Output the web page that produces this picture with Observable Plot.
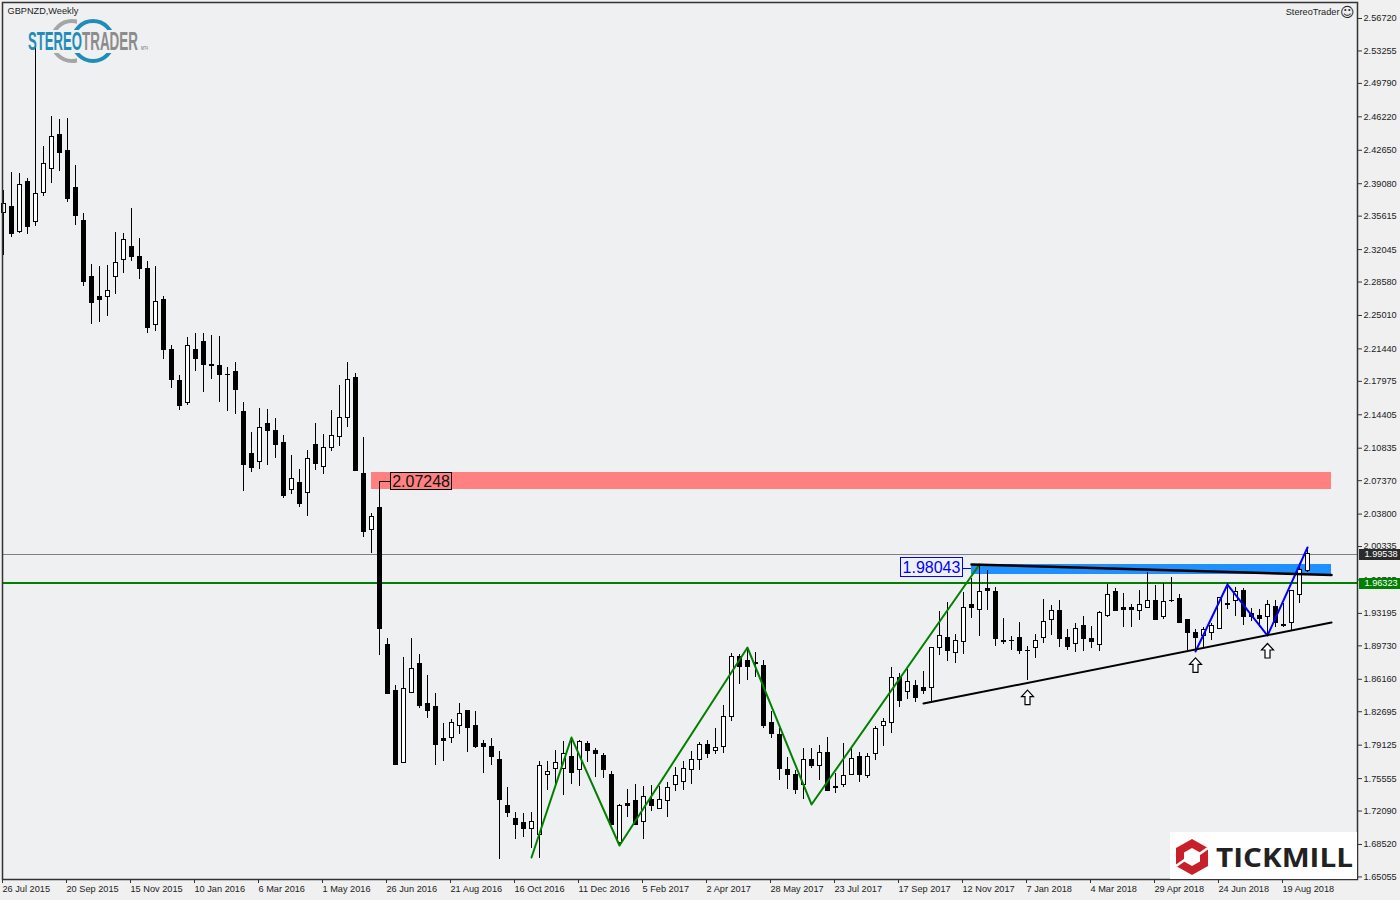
<!DOCTYPE html>
<html><head><meta charset="utf-8">
<script src="https://cdn.jsdelivr.net/npm/d3@7"></script>
<script src="https://cdn.jsdelivr.net/npm/@observablehq/plot@0.6"></script>
<style>
html,body{margin:0;padding:0;background:#f0f0f0;}
#wrap{position:relative;width:1400px;height:900px;overflow:hidden;}
#wrap>svg{display:block;}
#logo{position:absolute;left:0;top:0;pointer-events:none;}
</style></head><body><div id="wrap"></div>
<script>
const highs=[2.3835,2.4027,2.4017,2.3963,2.5394,2.4305,2.4625,2.4593,2.4604,2.4102,
2.3590,2.3045,2.3024,2.3034,2.3387,2.3376,2.3643,2.3323,2.3077,2.3024,
2.2703,2.2180,2.1860,2.2266,2.2308,2.2308,2.2287,2.2276,2.1945,2.1999,
2.1571,2.1251,2.1507,2.1497,2.1401,2.1219,2.1006,2.0856,2.1059,2.1347,
2.1230,2.1486,2.1753,2.1999,2.1881,2.1198,2.0386,2.07248,1.9051,1.8550,
1.8849,1.9051,1.8881,1.8656,1.8464,1.8144,1.8186,1.8357,1.8272,1.8272,
1.7962,1.7984,1.7845,1.7460,1.7193,1.7183,1.7193,1.7738,1.7738,1.7855,
1.7952,1.7962,1.7962,1.7952,1.7877,1.7823,1.7631,1.7279,1.7439,1.7492,
1.7471,1.7482,1.7471,1.7514,1.7674,1.7738,1.7845,1.7941,1.7962,1.8090,
1.8336,1.8891,1.8881,1.8955,1.8902,1.8817,1.8272,1.8090,1.7781,1.7642,
1.7877,1.7877,1.7909,1.7994,1.7610,1.7930,1.7888,1.7834,1.7823,1.8112,
1.8197,1.8742,1.8678,1.8720,1.8603,1.8699,1.8955,1.9340,1.9436,1.9094,
1.9543,1.9692,1.9842,1.9778,1.9596,1.9265,1.9073,1.9222,1.8966,1.9094,
1.9468,1.9404,1.9457,1.9148,1.9212,1.9286,1.9180,1.9340,1.9628,1.9585,
1.9532,1.9414,1.9564,1.9756,1.9617,1.9639,1.9703,1.9521,1.9254,1.9148,
1.9169,1.9212,1.9489,1.9639,1.9596,1.9585,1.9372,1.9361,1.9457,1.9457,
1.9425,1.9564,1.9852,2.0023];
const lows=[2.3141,2.3333,2.3376,2.3365,2.3451,2.3771,2.3910,2.4038,2.3707,2.3461,
2.2810,2.2404,2.2426,2.2490,2.2725,2.2949,2.3077,2.2885,2.2308,2.2330,
2.2031,2.1721,2.1486,2.1539,2.1902,2.1678,2.1817,2.1571,2.1475,2.1443,
2.0621,2.0824,2.0856,2.0899,2.0973,2.0546,2.0589,2.0450,2.0354,2.0845,
2.0803,2.1048,2.1102,2.1305,2.0845,2.0130,1.9959,1.8870,1.8464,1.7706,
1.7717,1.8464,1.8304,1.8197,1.7695,1.7738,1.7930,1.8026,1.7834,1.7877,
1.7610,1.7695,1.6692,1.7140,1.6905,1.6927,1.6809,1.6702,1.7428,1.7482,
1.7375,1.7492,1.7471,1.7727,1.7567,1.7557,1.7065,1.6841,1.7140,1.7065,
1.6905,1.7204,1.7236,1.7140,1.7418,1.7428,1.7492,1.7642,1.7770,1.7813,
1.7823,1.8165,1.8560,1.8603,1.8635,1.8090,1.7984,1.7535,1.7439,1.7386,
1.7332,1.7663,1.7535,1.7418,1.7396,1.7460,1.7589,1.7514,1.7557,1.7749,
1.7898,1.8037,1.8315,1.8400,1.8368,1.8453,1.8357,1.8870,1.8806,1.8784,
1.8881,1.9265,1.9073,1.9350,1.8966,1.8987,1.8923,1.8881,1.8603,1.8838,
1.8998,1.9083,1.8955,1.8923,1.8902,1.8913,1.8945,1.8913,1.9276,1.9350,
1.9169,1.9169,1.9244,1.9372,1.9254,1.9254,1.9436,1.9212,1.8923,1.8934,
1.8955,1.9030,1.9148,1.9361,1.9286,1.9190,1.9233,1.9169,1.9083,1.9169,
1.9169,1.9137,1.9425,1.9756];
const opens=[2.3600,2.3654,2.3397,2.3921,2.3504,2.3814,2.4070,2.4433,2.4262,2.3867,
2.3515,2.2917,2.2693,2.2693,2.2917,2.3088,2.3237,2.3130,2.3002,2.2394,
2.2661,2.2137,2.1806,2.1561,2.2137,2.2223,2.1967,2.1957,2.1870,2.1892,
2.1465,2.1027,2.0941,2.1347,2.1262,2.1134,2.0632,2.0717,2.0610,2.1123,
2.0888,2.1091,2.1198,2.1411,2.1828,2.0803,2.0215,2.0440,1.8977,1.8486,
1.7727,1.8474,1.8784,1.8357,1.8315,1.7973,1.7994,1.8122,1.8272,1.8122,
1.7920,1.7888,1.7749,1.7268,1.7129,1.7076,1.7012,1.6948,1.7589,1.7653,
1.7653,1.7781,1.7642,1.7920,1.7855,1.7802,1.7589,1.6873,1.7279,1.7311,
1.7087,1.7322,1.7236,1.7311,1.7492,1.7524,1.7642,1.7749,1.7909,1.7845,
1.7898,1.8208,1.8849,1.8806,1.8795,1.8763,1.8154,1.8016,1.7642,1.7599,
1.7492,1.7759,1.7695,1.7834,1.7450,1.7482,1.7599,1.7791,1.7578,1.7823,
1.8112,1.8154,1.8635,1.8475,1.8539,1.8528,1.8528,1.8955,1.9062,1.8902,
1.9009,1.9414,1.9361,1.9575,1.9553,1.9030,1.9030,1.9062,1.8923,1.8955,
1.9062,1.9244,1.9340,1.9062,1.8998,1.9180,1.9051,1.8977,1.9297,1.9543,
1.9382,1.9372,1.9340,1.9382,1.9447,1.9276,1.9457,1.9468,1.9244,1.9105,
1.9083,1.9115,1.9148,1.9425,1.9457,1.9564,1.9318,1.9297,1.9276,1.9393,
1.9201,1.9212,1.9511,1.9767];
const closes=[2.3686,2.3376,2.3899,2.3451,2.3803,2.4123,2.4412,2.4241,2.3750,2.3558,
2.2863,2.2639,2.2661,2.2757,2.3056,2.3312,2.3120,2.2992,2.2372,2.2650,
2.2127,2.1817,2.1529,2.2180,2.2041,2.1967,2.1957,2.1870,2.1860,2.1700,
2.0899,2.0867,2.1294,2.1272,2.1123,2.0578,2.0760,2.0493,2.0973,2.0920,
2.1091,2.1219,2.1411,2.1817,2.0845,2.0194,2.0344,1.9158,1.8464,1.7706,
1.8507,1.8731,1.8336,1.8272,1.7909,1.7962,1.8144,1.8240,1.8101,1.7888,
1.7888,1.7781,1.7322,1.7193,1.7065,1.7012,1.7087,1.7695,1.7621,1.7717,
1.7823,1.7610,1.7941,1.7845,1.7823,1.7642,1.7065,1.7258,1.7258,1.7065,
1.7364,1.7268,1.7322,1.7460,1.7578,1.7663,1.7749,1.7909,1.7823,1.7877,
1.8208,1.8849,1.8742,1.8752,1.8774,1.8112,1.8037,1.7663,1.7599,1.7439,
1.7759,1.7685,1.7834,1.7418,1.7471,1.7578,1.7770,1.7599,1.7791,1.8090,
1.8165,1.8635,1.8379,1.8582,1.8421,1.8496,1.8945,1.9083,1.8923,1.9030,
1.9382,1.9372,1.9553,1.9564,1.9041,1.9009,1.9020,1.8913,1.8913,1.9030,
1.9233,1.9340,1.9041,1.8966,1.9148,1.9041,1.9009,1.9329,1.9521,1.9350,
1.9361,1.9361,1.9414,1.9447,1.9254,1.9436,1.9447,1.9212,1.9105,1.9062,
1.9137,1.9190,1.9489,1.9414,1.9553,1.9276,1.9276,1.9265,1.9404,1.9212,
1.9180,1.9564,1.9778,1.99538];

const priceTicks=[2.56720,2.53255,2.49790,2.46220,2.42650,2.39080,2.35615,2.32045,2.28580,2.25010,2.21440,2.17975,2.14405,2.10835,2.07370,2.03800,2.00335,1.96765,1.93195,1.89730,1.86160,1.82695,1.79125,1.75555,1.72090,1.68520,1.65055];
const dateLabels=["26 Jul 2015","20 Sep 2015","15 Nov 2015","10 Jan 2016","6 Mar 2016","1 May 2016","26 Jun 2016","21 Aug 2016","16 Oct 2016","11 Dec 2016","5 Feb 2017","2 Apr 2017","28 May 2017","23 Jul 2017","17 Sep 2017","12 Nov 2017","7 Jan 2018","4 Mar 2018","29 Apr 2018","24 Jun 2018","19 Aug 2018"];
const barsPerDateLabel=8;

const greenZigIdx=[66,71,77,93,101,122];
const greenZigPrice=[1.6713,1.7994,1.6841,1.8955,1.7279,1.9842];
const blueZigIdx=[149,153,158,163];
const blueZigPrice=[1.8913,1.9628,1.9083,2.0023];
const supportIdx=[115,166];
const supportPrice=[1.8357,1.9222];
const resistIdx=[121,166];
const resistPrice=[1.9842,1.9729];
const arrowIdx=[128,149,158];
const arrowPrice=[1.8421,1.8765,1.8918];

const lastPrice=1.99538, levelPrice=1.96323, highLabel=2.07248, peakLabel=1.98043;

const candles=highs.map((h,i)=>({i,high:h,low:lows[i],open:opens[i],close:closes[i],top:Math.max(opens[i],closes[i]),bot:Math.min(opens[i],closes[i]),up:closes[i]>=opens[i]}));
const pts=(a,b)=>a.map((x,k)=>({x,y:b[k]}));

const FONT='"Liberation Sans",Arial,sans-serif';
const arrowSym={draw(c){
  c.moveTo(0,-7.5);c.lineTo(6,-1);c.lineTo(2.5,-1);c.lineTo(2.5,7);c.lineTo(-2.5,7);c.lineTo(-2.5,-1);c.lineTo(-6,-1);c.closePath();
}};
const crisp={shapeRendering:"crispEdges"};

const chart=Plot.plot({
  width:1400,height:900,marginLeft:2,marginRight:43,marginTop:2,marginBottom:21,
  style:{background:"#f0f0f0",fontFamily:FONT,overflow:"visible"},
  x:{domain:[-0.125,169.25],axis:null},
  y:{domain:[1.6478,2.5843],axis:null},
  marks:[
    Plot.rect([0],{x1:()=>-0.125,x2:()=>169.25,y1:()=>1.6478,y2:()=>2.5843,fill:"#eff0f2"}),
    Plot.rect([0],{x1:()=>46,x2:()=>166,y1:()=>2.0642,y2:()=>2.0824,fill:"#ff8080",...crisp}),
    Plot.rect([0],{x1:()=>121,x2:()=>166,y1:()=>1.9735,y2:()=>1.9842,fill:"#1e90ff",...crisp}),
    Plot.ruleY([lastPrice],{stroke:"#808080",strokeWidth:1,...crisp}),
    Plot.ruleY([levelPrice],{stroke:"#008000",strokeWidth:2,dy:-1,...crisp}),
    Plot.ruleX(candles,{x:"i",y1:"low",y2:"high",stroke:"#000",strokeWidth:1,...crisp}),
    Plot.rect(candles,{x1:d=>d.i-0.25,x2:d=>d.i+0.25,y1:"bot",y2:"top",dx:0.5,fill:d=>d.up?"#fff":"#000",stroke:"#000",strokeWidth:1,...crisp}),
    Plot.line(pts(greenZigIdx,greenZigPrice),{x:"x",y:"y",stroke:"#008000",strokeWidth:2}),
    Plot.line(pts(blueZigIdx,blueZigPrice),{x:"x",y:"y",stroke:"#0000ff",strokeWidth:2}),
    Plot.line(pts(supportIdx,supportPrice),{x:"x",y:"y",stroke:"#000",strokeWidth:2}),
    Plot.line(pts(resistIdx,resistPrice),{x:"x",y:"y",stroke:"#000",strokeWidth:2.5}),
    Plot.dot(pts(arrowIdx,arrowPrice),{x:"x",y:"y",symbol:arrowSym,fill:"#fff",stroke:"#000",strokeWidth:1.2}),
    // callouts
    Plot.ruleY([highLabel],{x1:()=>47,x2:()=>48.375,stroke:"#000",strokeWidth:1,...crisp}),
    Plot.rect([0],{x1:()=>48.375,x2:()=>56,y1:()=>2.0632,y2:()=>2.0824,fill:"#ff8080",stroke:"#000",strokeWidth:1,...crisp}),
    Plot.text([highLabel],{x:()=>52.2,y:()=>highLabel,text:d=>d.toFixed(5),fontSize:16,fill:"#111"}),
    Plot.ruleY([peakLabel],{x1:()=>119.875,x2:()=>121,stroke:"#0000ff",strokeWidth:1,...crisp}),
    Plot.rect([0],{x1:()=>112.125,x2:()=>119.875,y1:()=>1.9713,y2:()=>1.9906,fill:"none",stroke:"#0000ff",strokeWidth:1,...crisp}),
    Plot.text([peakLabel],{x:()=>116,y:()=>peakLabel,text:d=>d.toFixed(5),fontSize:16,fill:"#0000ff"}),
    // axes
    Plot.frame({stroke:"#333",strokeWidth:1.5}),
    Plot.axisY({anchor:"right",ticks:priceTicks,tickFormat:d3.format(".5f"),tickSize:4,tickPadding:2,fontSize:9.2,stroke:"#333",color:"#222",label:null}),
    Plot.axisX({anchor:"bottom",ticks:dateLabels.map((_,k)=>k*barsPerDateLabel),tickFormat:d=>dateLabels[d/barsPerDateLabel],tickSize:4,tickPadding:2,fontSize:9.2,textAnchor:"start",dx:-1,stroke:"#333",color:"#222",label:null}),
    // price tags
    Plot.ruleY([lastPrice],{x1:()=>169.5,x2:()=>174.7,stroke:"#2b2b2b",strokeWidth:11,...crisp}),
    Plot.ruleY([levelPrice],{x1:()=>169.5,x2:()=>174.7,stroke:"#008000",strokeWidth:11,dy:-1,...crisp}),
    Plot.text([lastPrice],{x:()=>172.2,y:d=>d,text:d=>d.toFixed(5),fill:"#fff",fontSize:9.2}),
    Plot.text([levelPrice],{x:()=>172.2,y:d=>d,dy:-1,text:d=>d.toFixed(5),fill:"#fff",fontSize:9.2}),
    // window captions
    Plot.text(["GBPNZD,Weekly"],{frameAnchor:"top-left",dx:5,dy:5,textAnchor:"start",fontSize:9.2,fill:"#222"}),
    Plot.text(["StereoTrader"],{frameAnchor:"top-right",dx:-18,dy:6,textAnchor:"end",fontSize:9.2,fill:"#222"}),
    Plot.text(["\u263A"],{frameAnchor:"top-right",dx:-3,dy:5,textAnchor:"end",fontSize:14,fill:"#222",fontFamily:"DejaVu Sans"})
  ]
});
const wrap=document.getElementById("wrap");
wrap.appendChild(chart);

const ns='http://www.w3.org/2000/svg';
const logo=document.createElement('div');
logo.innerHTML=`<svg id="logo" width="1400" height="900" xmlns="${ns}">
 <defs>
  <clipPath id="band"><rect x="0" y="0" width="300" height="30"/><rect x="0" y="53" width="300" height="30"/></clipPath>
  <clipPath id="bandL"><rect x="0" y="0" width="77" height="30"/><rect x="0" y="53" width="77" height="30"/></clipPath>
 </defs>
 <circle cx="72" cy="41" r="20" fill="none" stroke="#a5a5a5" stroke-width="4" clip-path="url(#bandL)"/>
 <circle cx="93" cy="41" r="20" fill="none" stroke="#1f8db8" stroke-width="4" clip-path="url(#band)"/>
 <text x="28" y="50" font-family="Liberation Sans" font-size="25" font-weight="700" fill="#1f8db8" textLength="54" lengthAdjust="spacingAndGlyphs">STEREO</text>
 <text x="82" y="50" font-family="Liberation Sans" font-size="25" font-weight="700" fill="#8c8c8c" textLength="56" lengthAdjust="spacingAndGlyphs">TRADER</text>
 <text x="141" y="50" font-family="Liberation Sans" font-size="5" font-weight="700" fill="#999" textLength="7" lengthAdjust="spacingAndGlyphs">MT4</text>
 <rect x="1170" y="832" width="187" height="47" fill="#fff"/>
 <path fill="#c8202a" fill-rule="evenodd" d="M1192 839 L1208 848 L1208 866 L1192 875 L1176 866 L1176 848 Z M1192 848 L1184 852.5 L1184 861.5 L1192 866 L1200 861.5 L1200 852.5 Z"/>
 <path stroke="#fff" stroke-width="2.5" d="M1176 866 L1186 859 M1198 855 L1208 848"/>
 <text x="1216" y="867" font-family="Open Sans" font-size="27" font-weight="700" fill="#222" textLength="137" lengthAdjust="spacingAndGlyphs">TICKMILL</text>
</svg>`;
wrap.appendChild(logo.firstElementChild);
</script></body></html>
